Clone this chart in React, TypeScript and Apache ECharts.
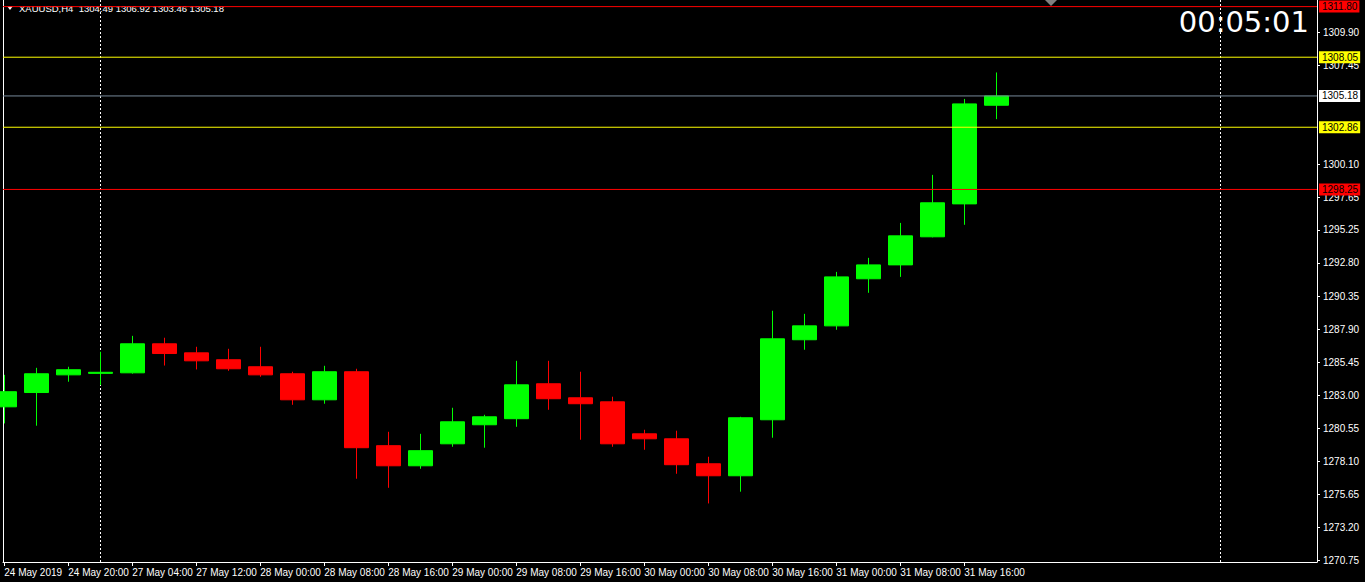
import React, { useEffect, useRef } from "react";
import * as echarts from "echarts";

// H4 bars, XAUUSD
const barTimes = [
  "24 May 12:00", "24 May 16:00", "24 May 20:00",
  "27 May 00:00", "27 May 04:00", "27 May 08:00", "27 May 12:00", "27 May 16:00",
  "28 May 00:00", "28 May 04:00", "28 May 08:00", "28 May 12:00", "28 May 16:00", "28 May 20:00",
  "29 May 00:00", "29 May 04:00", "29 May 08:00", "29 May 12:00", "29 May 16:00", "29 May 20:00",
  "30 May 00:00", "30 May 04:00", "30 May 08:00", "30 May 12:00", "30 May 16:00", "30 May 20:00",
  "31 May 00:00", "31 May 04:00", "31 May 08:00", "31 May 12:00", "31 May 16:00", "31 May 20:00",
];
const opens = [
  1282.14, 1283.2, 1284.51, 1284.62, 1284.66, 1286.81, 1286.14, 1285.63,
  1285.11, 1284.59, 1282.66, 1284.74, 1279.26, 1277.77, 1279.4, 1280.81,
  1281.26, 1283.85, 1282.81, 1282.51, 1280.14, 1279.77, 1277.92, 1277.03,
  1281.18, 1287.11, 1288.14, 1291.63, 1292.66, 1294.74, 1297.18, 1304.49,
];
const closes = [
  1283.26, 1284.59, 1284.89, 1284.7, 1286.81, 1286.09, 1285.55, 1284.96,
  1284.51, 1282.66, 1284.74, 1279.11, 1277.77, 1278.89, 1281.03, 1281.4,
  1283.77, 1282.74, 1282.37, 1279.4, 1279.77, 1277.85, 1277.03, 1281.33,
  1287.18, 1288.14, 1291.77, 1292.66, 1294.81, 1297.26, 1304.59, 1305.18,
];
const lows = [
  1280.91, 1280.74, 1284.0, 1283.75, 1284.6, 1285.2, 1284.91, 1284.81,
  1284.37, 1282.29, 1282.37, 1276.81, 1276.14, 1277.55, 1279.18, 1279.11,
  1280.66, 1281.92, 1279.7, 1279.18, 1278.96, 1277.18, 1274.98, 1275.85,
  1279.85, 1286.37, 1287.85, 1290.59, 1291.77, 1294.7, 1295.63, 1303.46,
];
const highs = [
  1284.51, 1285.03, 1285.11, 1286.22, 1287.4, 1287.26, 1286.59, 1286.44,
  1286.59, 1284.74, 1285.18, 1284.96, 1280.29, 1280.14, 1282.07, 1281.55,
  1285.55, 1285.55, 1284.74, 1282.89, 1280.44, 1280.37, 1278.44, 1281.4,
  1289.26, 1289.03, 1292.14, 1293.18, 1295.77, 1299.33, 1304.96, 1306.92,
];

const xTickBars = [0, 2, 4, 6, 8, 10, 12, 14, 16, 18, 20, 22, 24, 26, 28, 30];
const xTickLabels = [
  "24 May 2019", "24 May 20:00", "27 May 04:00", "27 May 12:00", "28 May 00:00",
  "28 May 08:00", "28 May 16:00", "29 May 00:00", "29 May 08:00", "29 May 16:00",
  "30 May 00:00", "30 May 08:00", "30 May 16:00", "31 May 00:00", "31 May 08:00",
  "31 May 16:00",
];
const yTickValues = [
  1309.9, 1307.45, 1300.1, 1297.65, 1295.25, 1292.8, 1290.35, 1287.9,
  1285.45, 1283.0, 1280.55, 1278.1, 1275.65, 1273.2, 1270.75,
];

const levelValues = [1311.8, 1308.05, 1305.18, 1302.86, 1298.25];
const levelLineColors = ["#ff0000", "#ffff00", "#778899", "#ffff00", "#ff0000"];
const levelTagColors = ["#ff0000", "#ffff00", "#ffffff", "#ffff00", "#ff0000"];
const separatorBars = [3, 38];

const symbolName = "XAUUSD,H4";
const countdown = "00:05:01";

const yMin = 1270.64;
const yMax = 1312.29;
const xMin = -0.040625;
const xMax = 41.021875;

export default function App() {
  const ref = useRef<HTMLDivElement>(null);

  useEffect(() => {
    const chart = echarts.init(ref.current as HTMLDivElement, null, { renderer: "svg" });
    const candles = barTimes.map((_, i) => [i, opens[i], closes[i], lows[i], highs[i]]);
    const last = candles.length - 1;
    const header = `${symbolName}  ${opens[last].toFixed(2)} ${highs[last].toFixed(2)} ${lows[last].toFixed(2)} ${closes[last].toFixed(2)}`;

    const levelSeries = levelValues.map((v, i) => ({
      type: "line",
      name: "level" + i,
      data: [[xMin, v], [xMax, v]],
      yAxisIndex: 0,
      symbol: "none",
      silent: true,
      clip: false,
      z: 5,
      lineStyle: { color: levelLineColors[i], width: 1, type: "solid" },
      endLabel: {
        show: true,
        formatter: v.toFixed(2),
        backgroundColor: levelTagColors[i],
        color: "#000000",
        padding: [1, 2, 1, 3],
        fontSize: 10,
        lineHeight: 10,
        fontFamily: "Liberation Sans",
        distance: 2,
      },
    }));

    chart.setOption({
      animation: false,
      backgroundColor: "#000000",
      textStyle: { fontFamily: "Liberation Sans" },
      grid: { left: 3, top: 0, width: 1314, height: 562, containLabel: false },
      xAxis: {
        type: "value",
        min: xMin,
        max: xMax,
        axisLine: { show: true, onZero: false, lineStyle: { color: "#ffffff", width: 1 } },
        axisTick: { show: true, customValues: xTickBars, length: 4, lineStyle: { color: "#ffffff" } },
        axisLabel: {
          customValues: xTickBars,
          formatter: (v: number) => {
            const k = xTickBars.indexOf(Math.round(v));
            return k >= 0 ? xTickLabels[k] : "";
          },
          align: "left",
          color: "#ffffff",
          fontSize: 10,
          fontFamily: "Liberation Sans",
          margin: 5,
        },
        splitLine: { show: false },
      },
      yAxis: [
        {
          type: "value",
          position: "right",
          min: yMin,
          max: yMax,
          axisLine: { show: true, onZero: false, lineStyle: { color: "#ffffff", width: 1 } },
          axisTick: { show: true, customValues: yTickValues, length: 3, lineStyle: { color: "#ffffff" } },
          axisLabel: {
            customValues: yTickValues,
            formatter: (v: number) => v.toFixed(2),
            color: "#ffffff",
            fontSize: 10,
            fontFamily: "Liberation Sans",
            margin: 6,
          },
          splitLine: { show: false },
        },
        {
          type: "value",
          position: "left",
          min: yMin,
          max: yMax,
          axisLine: { show: true, onZero: false, lineStyle: { color: "#ffffff", width: 1 } },
          axisTick: { show: false },
          axisLabel: { show: false },
          splitLine: { show: false },
        },
      ],
      series: [
        {
          type: "candlestick",
          data: candles,
          encode: { x: 0, y: [1, 2, 3, 4] },
          yAxisIndex: 0,
          barWidth: 24,
          clip: true,
          z: 3,
          itemStyle: {
            color: "#00ff00",
            color0: "#ff0000",
            borderColor: "#00ff00",
            borderColor0: "#ff0000",
            borderWidth: 1,
          },
          markLine: {
            silent: true,
            animation: false,
            symbol: ["none", "none"],
            z: 1,
            data: separatorBars.map((b) => ({
              xAxis: b,
              lineStyle: { color: "#ffffff", width: 1, type: [2, 2] },
              label: { show: false },
            })),
          },
        },
        ...levelSeries,
      ],
      graphic: [
        {
          type: "polygon",
          shape: { points: [[7, 6], [13, 6], [10, 10]] },
          style: { fill: "#ffffff" },
        },
        {
          type: "text",
          x: 19,
          y: 8,
          style: {
            text: header,
            fill: "#ffffff",
            font: '9.5px "Liberation Sans"',
            textVerticalAlign: "middle",
          },
        },
        {
          type: "text",
          x: 1309,
          y: 22,
          style: {
            text: countdown,
            fill: "#ffffff",
            font: '29px "DejaVu Sans"',
            textAlign: "right",
            textVerticalAlign: "middle",
          },
        },
        {
          type: "polygon",
          shape: { points: [[1045, 0], [1057, 0], [1051, 6]] },
          style: { fill: "#808080" },
        },
      ],
    });

    return () => chart.dispose();
  }, []);

  return (
    <div
      ref={ref}
      style={{ position: "fixed", left: 0, top: 0, width: 1365, height: 582 }}
    />
  );
}
